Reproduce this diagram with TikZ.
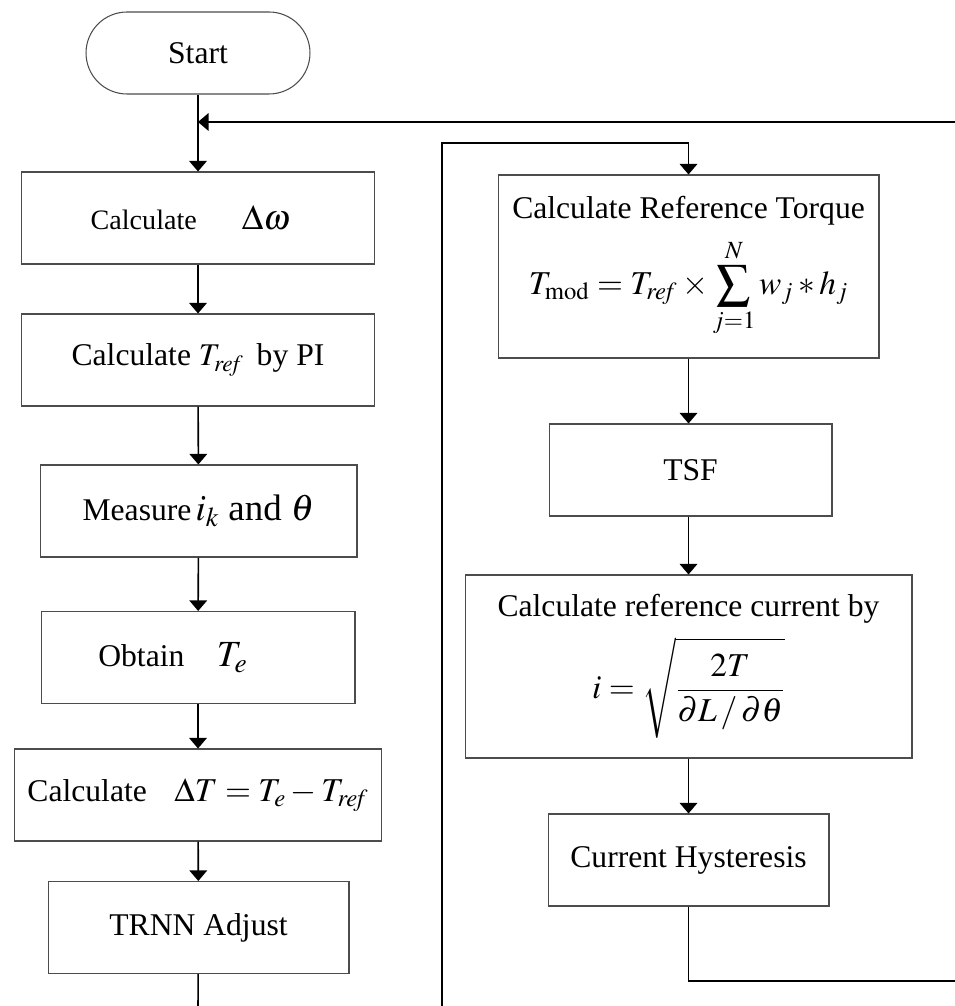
\documentclass[tikz,border=0pt]{standalone}
\usepackage{mathptmx}
\usepackage{fontspec}
\setmainfont{Liberation Serif}
\usetikzlibrary{arrows.meta}

% tamanhos de letra
\newcommand{\tam}[1]{\fontsize{#1}{#1}\selectfont}
\newcommand{\rf}{\mathit{ref}}

\begin{document}
\begin{tikzpicture}[
  x = 0.02cm, y = -0.02cm,
  every node/.style = {font=\tam{18}},
  caixa/.style = {draw=black!70, line width=0.6pt, inner sep=0pt,
                  minimum height=1.84cm, align=center},
  seta/.style = {line width=0.9pt, -{Triangle[width=10pt,length=6pt]}},
  linha/.style = {line width=0.9pt}
]
\useasboundingbox (0,0) rectangle (955,1006);

% coluna da esquerda
\node[draw=black!70, line width=0.6pt, rounded corners=0.82cm,
      minimum width=4.48cm, minimum height=1.64cm] (inicio) at (198,53) {Start};
\node[caixa, minimum width=7.08cm, font=\tam{16}] (dw) at (198,218)
  {Calculate\hspace{0.9cm}{\tam{20}$\Delta\omega$}\hspace{0.3cm}\null};
\node[caixa, minimum width=7.08cm] (tref) at (198,360) {Calculate $T_{\rf}$\, by PI};
\node[caixa, minimum width=6.34cm] (mede) at (198.5,511)
  {Measure{\tam{21}$\,i_k$ and $\theta$}};
\node[caixa, minimum width=6.28cm] (te) at (198,657.5)
  {Obtain\hspace{0.65cm}{\tam{21}$T_e$}\hspace{1cm}\null};
\node[caixa, minimum width=7.36cm] (dT) at (198,795)
  {Calculate\hspace{0.55cm}{\tam{19}$\Delta T = T_e - T_{\rf}$}};
\node[caixa, minimum width=6.02cm] (trnn) at (198.5,927.5) {TRNN Adjust};

% coluna da direita
\node[caixa, minimum width=7.62cm, minimum height=3.66cm] (torque) at (688.5,266.5)
  {Calculate Reference Torque\\[7pt]
   {\tam{19}$\displaystyle T_{\mathrm{mod}} = T_{\rf}\times\sum_{j=1}^{N} w_j * h_j$}};
\node[caixa, minimum width=5.66cm] (tsf) at (690.5,470) {TSF};
\node[caixa, minimum width=8.94cm, minimum height=3.66cm] (iref) at (688.5,666.5)
  {Calculate reference current by\\[7pt]
   {\tam{19}$\displaystyle i = \sqrt{\frac{2T}{\partial L\,/\,\partial\theta}}$}};
\node[caixa, minimum width=5.62cm] (hist) at (688.5,860) {Current Hysteresis};

% pontos fora da figura
\coordinate (retorno) at (955,122);
\coordinate (baixoE) at (198,1006);
\coordinate (baixoM) at (442,1006);
\coordinate (topoM) at (442,143);
\coordinate (saida) at (955,981);

\draw[seta] (inicio) -- (dw);
\draw[seta] (retorno) -- (retorno -| inicio.south);
\draw[seta] (dw) -- (tref);
\draw[seta] (tref) -- (mede);
\draw[seta] (mede) -- (te);
\draw[seta] (te) -- (dT);
\draw[seta] (dT) -- (trnn);
\draw[linha] (trnn) -- (baixoE);

\draw[seta] (baixoM) -- (topoM) -| (torque.north);
\draw[seta] (torque) -- (tsf.north -| torque.south);
\draw[seta] (tsf.south -| torque.south) -- (iref);
\draw[seta] (iref) -- (hist);
\draw[linha] (hist) |- (saida);
\end{tikzpicture}
\end{document}
